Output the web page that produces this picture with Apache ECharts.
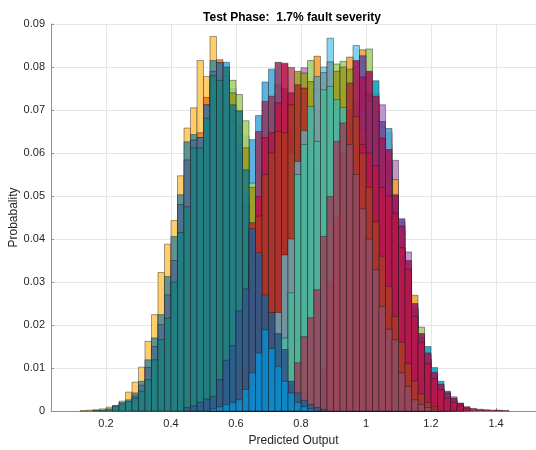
<!DOCTYPE html>
<html>
<head>
<meta charset="utf-8">
<script src="https://cdn.jsdelivr.net/npm/echarts@6/dist/echarts.min.js"></script>
<style>
  html, body { margin: 0; padding: 0; background: #ffffff; }
  #chart { width: 536px; height: 450px; }
</style>
</head>
<body>
<div id="chart"></div>
<script>
// Overlaid histograms of predicted output, bin width 0.02.
// Each histogram: left edge of its first bin + probability per bin.
const BIN_WIDTH = 0.02;

const yellowStart = 0.12;
const yellowVals = [0.0001, 0.0002, 0.0003, 0.0005, 0.0009, 0.0013, 0.0023, 0.0044, 0.0067, 0.0102, 0.0162, 0.0224, 0.0322, 0.0388, 0.0443, 0.0547, 0.0658, 0.0705, 0.0815, 0.0778, 0.0871, 0.0760, 0.0700, 0.0600, 0.0500, 0.0400, 0.0300, 0.0200, 0.0130, 0.0080, 0.0040, 0.0020, 0.0010];

const skyBlueStart = 0.46;
const skyBlueVals = [0.0400, 0.0500, 0.0600, 0.0700, 0.0780, 0.0811, 0.0750, 0.0700, 0.0640, 0.0631, 0.0687, 0.0765, 0.0795, 0.0760, 0.0680, 0.0560, 0.0420, 0.0280, 0.0160, 0.0080, 0.0040];

const orangeLowStart = 0.40;
const orangeLowVals = [0.0300, 0.0400, 0.0500, 0.0580, 0.0647, 0.0729, 0.0760, 0.0817, 0.0750, 0.0680, 0.0580, 0.0450, 0.0330, 0.0220, 0.0140, 0.0080, 0.0040, 0.0020];

const limeLowStart = 0.50;
const limeLowVals = [0.0450, 0.0550, 0.0650, 0.0720, 0.0769, 0.0736, 0.0675, 0.0530, 0.0400, 0.0280, 0.0180, 0.0100, 0.0050, 0.0020];

const oliveLowStart = 0.54;
const oliveLowVals = [0.0500, 0.0640, 0.0740, 0.0660, 0.0612, 0.0520, 0.0400, 0.0300, 0.0200, 0.0120, 0.0060];

const grayTealStart = 0.22;
const grayTealVals = [0.0012, 0.0020, 0.0026, 0.0042, 0.0069, 0.0119, 0.0170, 0.0224, 0.0313, 0.0406, 0.0503, 0.0626, 0.0643, 0.0636, 0.0712, 0.0815, 0.0810, 0.0790, 0.0700, 0.0620, 0.0500, 0.0380, 0.0270, 0.0180, 0.0110, 0.0060, 0.0030];

const slateStart = 0.28;
const slateVals = [0.0035, 0.0060, 0.0101, 0.0150, 0.0201, 0.0270, 0.0350, 0.0480, 0.0584, 0.0630, 0.0636, 0.0712, 0.0790, 0.0810, 0.0780, 0.0690, 0.0600, 0.0480, 0.0360, 0.0250, 0.0160, 0.0100, 0.0050];

const tealStart = 0.16;
const tealVals = [0.0001, 0.0002, 0.0005, 0.0011, 0.0017, 0.0022, 0.0030, 0.0046, 0.0073, 0.0119, 0.0166, 0.0216, 0.0300, 0.0415, 0.0475, 0.0612, 0.0612, 0.0681, 0.0780, 0.0769, 0.0800, 0.0712, 0.0698, 0.0561, 0.0420, 0.0320, 0.0230, 0.0160, 0.0100, 0.0060, 0.0030, 0.0015, 0.0007];

const plumStart = 0.60;
const plumVals = [0.0100, 0.0200, 0.0350, 0.0650, 0.0720, 0.0732, 0.0811, 0.0750, 0.0650, 0.0500, 0.0350, 0.0200, 0.0100, 0.0050];

const pinkStart = 0.74;
const pinkVals = [0.0700, 0.0799, 0.0680, 0.0550, 0.0400];

const crimsonStart = 0.60;
const crimsonVals = [0.0030, 0.0080, 0.0300, 0.0499, 0.0636, 0.0647, 0.0717, 0.0809, 0.0740, 0.0700, 0.0600, 0.0500, 0.0400, 0.0300, 0.0200, 0.0120, 0.0070, 0.0040];

const lavenderStart = 0.78;
const lavenderVals = [0.0600, 0.0798, 0.0720, 0.0680, 0.0700, 0.0720, 0.0740, 0.0760, 0.0770, 0.0780, 0.0790, 0.0760, 0.0720, 0.0712, 0.0620, 0.0583, 0.0440, 0.0370, 0.0240, 0.0170, 0.0120, 0.0080, 0.0050, 0.0035, 0.0033, 0.0018];

const lightBlueStart = 0.80;
const lightBlueVals = [0.0500, 0.0600, 0.0700, 0.0800, 0.0867, 0.0760, 0.0720, 0.0760, 0.0850, 0.0700, 0.0600, 0.0500, 0.0400, 0.0300, 0.0200, 0.0120, 0.0080, 0.0040];

const orangeHighStart = 0.80;
const orangeHighVals = [0.0600, 0.0700, 0.0825, 0.0720, 0.0700, 0.0720, 0.0750, 0.0823, 0.0780, 0.0840, 0.0750, 0.0680, 0.0620, 0.0647, 0.0538, 0.0420, 0.0320, 0.0269, 0.0180, 0.0130, 0.0080, 0.0050, 0.0030];

const blueHighStart = 0.96;
const blueHighVals = [0.0500, 0.0550, 0.0600, 0.0630, 0.0640, 0.0657, 0.0480, 0.0380, 0.0280, 0.0200, 0.0140, 0.0100, 0.0070, 0.0050];

const limeHighStart = 0.80;
const limeHighVals = [0.0700, 0.0815, 0.0750, 0.0760, 0.0780, 0.0807, 0.0813, 0.0790, 0.0800, 0.0810, 0.0842, 0.0740, 0.0660, 0.0580, 0.0480, 0.0380, 0.0300, 0.0230, 0.0195, 0.0120, 0.0070, 0.0040];

const purpleStart = 0.96;
const purpleVals = [0.0700, 0.0826, 0.0740, 0.0700, 0.0673, 0.0580, 0.0500, 0.0447, 0.0330, 0.0240, 0.0170, 0.0120, 0.0085, 0.0060, 0.0046, 0.0028, 0.0017];

const cyanStart = 0.96;
const cyanVals = [0.0600, 0.0700, 0.0720, 0.0768, 0.0620, 0.0550, 0.0450, 0.0360, 0.0300, 0.0220, 0.0170, 0.0150, 0.0101, 0.0069, 0.0040, 0.0025];

const oliveHighStart = 0.76;
const oliveHighVals = [0.0600, 0.0790, 0.0786, 0.0766, 0.0700, 0.0720, 0.0740, 0.0790, 0.0800, 0.0795, 0.0720, 0.0650, 0.0550, 0.0450, 0.0350, 0.0250, 0.0150];

const brickStart = 0.58;
const brickVals = [0.0020, 0.0040, 0.0100, 0.0438, 0.0453, 0.0550, 0.0600, 0.0650, 0.0647, 0.0712, 0.0759, 0.0751, 0.0650, 0.0550, 0.0400, 0.0300, 0.0200, 0.0120, 0.0070, 0.0040, 0.0020];

const steelStart = 0.70;
const steelVals = [0.0100, 0.0229, 0.0363, 0.0400, 0.0580, 0.0652, 0.0700, 0.0778, 0.0787, 0.0812, 0.0700, 0.0600, 0.0450, 0.0300, 0.0180, 0.0100, 0.0050];

const seaGreenStart = 0.70;
const seaGreenVals = [0.0050, 0.0100, 0.0170, 0.0275, 0.0550, 0.0620, 0.0708, 0.0627, 0.0747, 0.0755, 0.0724, 0.0706, 0.0500, 0.0350, 0.0200, 0.0100, 0.0050];

const magentaStart = 0.86;
const magentaVals = [0.0100, 0.0200, 0.0350, 0.0500, 0.0700, 0.0815, 0.0777, 0.0790, 0.0732, 0.0635, 0.0608, 0.0503, 0.0430, 0.0350, 0.0250, 0.0180, 0.0135, 0.0090, 0.0062, 0.0042, 0.0030, 0.0018, 0.0010, 0.0006, 0.0004, 0.0003, 0.0002, 0.0002, 0.0001];

const rubyStart = 0.98;
const rubyVals = [0.0620, 0.0600, 0.0570, 0.0520, 0.0500, 0.0460, 0.0380, 0.0330, 0.0220, 0.0160, 0.0110, 0.0075, 0.0050, 0.0030, 0.0020, 0.0012, 0.0007];

const rustStart = 0.88;
const rustVals = [0.0300, 0.0450, 0.0600, 0.0763, 0.0685, 0.0600, 0.0520, 0.0440, 0.0360, 0.0290, 0.0220, 0.0160, 0.0110, 0.0070, 0.0040, 0.0020, 0.0010];

const roseStart = 0.74;
const roseVals = [0.0030, 0.0060, 0.0112, 0.0173, 0.0217, 0.0282, 0.0406, 0.0499, 0.0627, 0.0670, 0.0620, 0.0550, 0.0470, 0.0400, 0.0329, 0.0243, 0.0190, 0.0166, 0.0089, 0.0057, 0.0026, 0.0015, 0.0008, 0.0004];

const navyStart = 0.44;
const navyVals = [0.0008, 0.0012, 0.0020, 0.0028, 0.0034, 0.0073, 0.0118, 0.0152, 0.0233, 0.0284, 0.0424, 0.0368, 0.0270, 0.0229, 0.0180, 0.0143, 0.0069, 0.0042, 0.0025, 0.0015, 0.0008, 0.0004];

const azureStart = 0.52;
const azureVals = [0.0005, 0.0010, 0.0015, 0.0020, 0.0026, 0.0050, 0.0089, 0.0135, 0.0189, 0.0145, 0.0104, 0.0069, 0.0042, 0.0020, 0.0010, 0.0005];

// Axis ranges and labels
const X_MIN = 0.0308;
const X_MAX = 1.523;
const Y_MAX = 0.09;
const Y_STEP = 0.01;
const TITLE = 'Test Phase:  1.7% fault severity';
const X_NAME = 'Predicted Output';
const Y_NAME = 'Probabality';

const FONT = '"Liberation Sans", Arial, Helvetica, sans-serif';

// Drawing order: first entry is at the back
const histograms = [
  { start: yellowStart, vals: yellowVals, color: '#FFC95B' },
  { start: skyBlueStart, vals: skyBlueVals, color: '#4DAADF' },
  { start: orangeLowStart, vals: orangeLowVals, color: '#EE7B2A' },
  { start: limeLowStart, vals: limeLowVals, color: '#A6D16A' },
  { start: oliveLowStart, vals: oliveLowVals, color: '#979B22' },
  { start: grayTealStart, vals: grayTealVals, color: '#4A8D98' },
  { start: slateStart, vals: slateVals, color: '#4F6E8F' },
  { start: tealStart, vals: tealVals, color: '#1F7E80' },
  { start: plumStart, vals: plumVals, color: '#8F3D66' },
  { start: pinkStart, vals: pinkVals, color: '#D2566F' },
  { start: crimsonStart, vals: crimsonVals, color: '#B8174A' },
  { start: lavenderStart, vals: lavenderVals, color: '#BB8ACB' },
  { start: lightBlueStart, vals: lightBlueVals, color: '#73D0F2' },
  { start: orangeHighStart, vals: orangeHighVals, color: '#F2A43A' },
  { start: blueHighStart, vals: blueHighVals, color: '#48A6DA' },
  { start: limeHighStart, vals: limeHighVals, color: '#A4D06B' },
  { start: purpleStart, vals: purpleVals, color: '#6C4BA0' },
  { start: cyanStart, vals: cyanVals, color: '#15A2C2' },
  { start: oliveHighStart, vals: oliveHighVals, color: '#9A9C24' },
  { start: brickStart, vals: brickVals, color: '#AD3327' },
  { start: steelStart, vals: steelVals, color: '#6F9EAB' },
  { start: seaGreenStart, vals: seaGreenVals, color: '#4DB49A' },
  { start: magentaStart, vals: magentaVals, color: '#A21A5C' },
  { start: rubyStart, vals: rubyVals, color: '#B5174A' },
  { start: rustStart, vals: rustVals, color: '#AA3729' },
  { start: roseStart, vals: roseVals, color: '#94495F' },
  { start: navyStart, vals: navyVals, color: '#2D5B89' },
  { start: azureStart, vals: azureVals, color: '#0C8ACB' }
];

function toBins(start, vals) {
  return vals.map(function (v, i) {
    const left = +(start + i * BIN_WIDTH).toFixed(2);
    return [left, +(left + BIN_WIDTH).toFixed(2), v];
  });
}

function withAlpha(hex, a) {
  const n = parseInt(hex.slice(1), 16);
  return 'rgba(' + ((n >> 16) & 255) + ',' + ((n >> 8) & 255) + ',' + (n & 255) + ',' + a + ')';
}

const series = histograms.map(function (h) {
  const fill = withAlpha(h.color, 0.9);
  return {
    type: 'custom',
    silent: true,
    data: toBins(h.start, h.vals),
    encode: { x: [0, 1], y: 2 },
    renderItem: function (params, api) {
      const topLeft = api.coord([api.value(0), api.value(2)]);
      const bottomRight = api.coord([api.value(1), 0]);
      return {
        type: 'rect',
        shape: {
          x: topLeft[0],
          y: topLeft[1],
          width: bottomRight[0] - topLeft[0],
          height: bottomRight[1] - topLeft[1]
        },
        style: { fill: fill, stroke: 'rgba(25,25,25,0.6)', lineWidth: 0.7 }
      };
    }
  };
});

const chart = echarts.init(document.getElementById('chart'), null, { renderer: 'canvas' });
chart.setOption({
  animation: false,
  backgroundColor: '#ffffff',
  title: {
    text: TITLE,
    left: 287,
    top: 7,
    textAlign: 'center',
    textStyle: { fontFamily: FONT, fontSize: 12, fontWeight: 'bold', color: '#000000' }
  },
  grid: { left: 51, right: 0, top: 24, bottom: 39, containLabel: false, outerBoundsMode: 'none' },
  xAxis: {
    type: 'value',
    min: X_MIN,
    max: X_MAX,
    splitNumber: 7,
    name: X_NAME,
    nameLocation: 'middle',
    nameGap: 24,
    nameMoveOverlap: false,
    nameTextStyle: { fontFamily: FONT, fontSize: 12, color: '#262626' },
    axisLine: { show: true, onZero: false, lineStyle: { color: '#8f8f8f', width: 1 } },
    axisTick: { show: true, inside: true, length: 3, lineStyle: { color: '#8f8f8f' } },
    axisLabel: { showMinLabel: false, showMaxLabel: false, margin: 7, fontFamily: FONT, fontSize: 11, color: '#262626' },
    splitLine: { show: true, lineStyle: { color: '#e6e6e6', width: 1 } }
  },
  yAxis: {
    type: 'value',
    min: 0,
    max: Y_MAX,
    interval: Y_STEP,
    name: Y_NAME,
    nameLocation: 'middle',
    nameGap: 31,
    nameMoveOverlap: false,
    nameTextStyle: { fontFamily: FONT, fontSize: 12, color: '#262626' },
    axisLine: { show: true, lineStyle: { color: '#8f8f8f', width: 1 } },
    axisTick: { show: true, inside: true, length: 3, lineStyle: { color: '#8f8f8f' } },
    axisLabel: { margin: 6, fontFamily: FONT, fontSize: 11, color: '#262626' },
    splitLine: { show: true, lineStyle: { color: '#e6e6e6', width: 1 } }
  },
  series: series
});
</script>
</body>
</html>
